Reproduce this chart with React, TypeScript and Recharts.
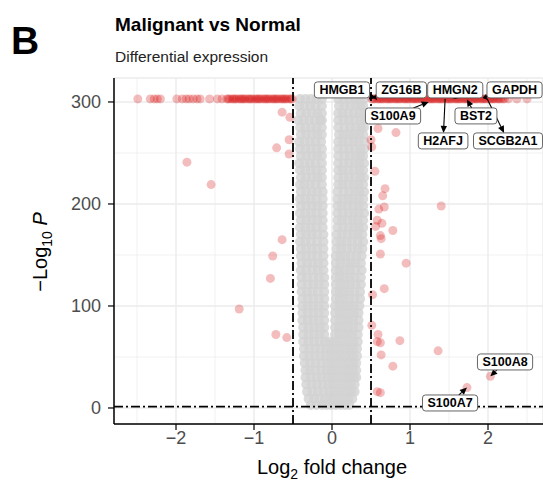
import React from "react";
import {
  ScatterChart,
  Scatter,
  XAxis,
  YAxis,
  CartesianGrid,
  ReferenceLine,
} from "recharts";

// -log10(P) value where P underflows to zero
const CAP_Y = 303;

// log2FC of genes sitting at the capped P value
const cappedLeft = [
  -2.49, -2.33, -2.28, -2.24, -2.2, -1.99, -1.92, -1.87, -1.83, -1.78, -1.73,
  -1.69, -1.57, -1.47, -1.41, -1.35, -1.33, -1.31, -1.28, -1.26, -1.24, -1.22,
  -1.19, -1.17, -1.15, -1.13, -1.11, -1.08, -1.06, -1.04, -1.02, -0.99, -0.97,
  -0.95, -0.93, -0.91, -0.88, -0.86, -0.84, -0.82, -0.8, -0.77, -0.75, -0.73,
  -0.71, -0.69, -0.66, -0.64, -0.62, -0.6, -0.58, -0.55, -0.53, -0.51,
];
const cappedRight = [
  0.51, 0.53, 0.55, 0.58, 0.6, 0.62, 0.64, 0.66, 0.69, 0.71, 0.73, 0.75, 0.77,
  0.8, 0.82, 0.84, 0.86, 0.88, 0.91, 0.93, 0.95, 0.97, 0.99, 1.02, 1.04, 1.06,
  1.08, 1.1, 1.13, 1.15, 1.17, 1.19, 1.21, 1.24, 1.26, 1.28, 1.3, 1.32, 1.35,
  1.37, 1.39, 1.41, 1.43, 1.46, 1.48, 1.5, 1.52, 1.54, 1.57, 1.59, 1.61, 1.63,
  1.65, 1.68, 1.7, 1.72, 1.74, 1.76, 1.79, 1.81, 1.83, 1.85, 1.87, 1.9, 1.92,
  1.94, 1.96, 1.98, 2.01, 2.03, 2.05, 2.07, 2.09, 2.12, 2.14, 2.16, 2.19, 2.21,
  2.26, 2.37, 2.5,
];

// significant genes below the cap: [log2FC, -log10 P]
const sigLeft: [number, number][] = [
  [-1.86, 241], [-1.55, 219], [-0.64, 290], [-0.54, 285], [-0.71, 255],
  [-0.55, 263], [-0.55, 249], [-0.64, 165], [-0.76, 149], [-0.79, 127],
  [-1.19, 97], [-0.72, 72], [-0.58, 69],
];
const sigRight: [number, number][] = [
  [0.5, 263], [0.51, 256], [0.59, 274], [0.82, 270], [0.55, 232], [0.68, 215],
  [0.65, 208], [0.6, 195], [0.67, 197], [1.4, 198], [0.58, 184], [0.56, 178],
  [0.64, 181], [0.78, 174], [0.62, 169], [0.63, 166], [0.62, 151], [0.95, 142],
  [0.67, 117], [0.52, 111], [0.51, 81], [0.59, 72], [0.58, 65], [0.62, 64],
  [0.63, 52], [0.87, 66], [1.36, 56], [0.78, 41], [0.58, 16], [0.62, 15],
  [1.73, 20], [2.03, 31],
];

// non-significant genes, one row per -log10 P level: [y, log2FC values]
const greyRows: [number, number[]][] = [
  [303, [-0.41, -0.34, -0.27, -0.2, -0.13, 0.08, 0.15, 0.22, 0.29, 0.35, 0.41]],
  [296, [-0.42, -0.35, -0.28, -0.21, -0.13, 0.09, 0.16, 0.23, 0.3, 0.36, 0.4]],
  [289, [-0.4, -0.33, -0.26, -0.19, -0.13, 0.08, 0.14, 0.21, 0.28, 0.35, 0.41]],
  [282, [-0.43, -0.36, -0.29, -0.22, -0.15, -0.13, 0.08, 0.15, 0.22, 0.29, 0.36, 0.42]],
  [275, [-0.41, -0.34, -0.27, -0.2, -0.13, 0.08, 0.16, 0.23, 0.3, 0.37, 0.41]],
  [268, [-0.4, -0.33, -0.26, -0.19, -0.13, 0.09, 0.15, 0.22, 0.28, 0.35, 0.4]],
  [261, [-0.42, -0.35, -0.28, -0.21, -0.14, 0.08, 0.14, 0.21, 0.28, 0.34, 0.41]],
  [254, [-0.41, -0.34, -0.27, -0.2, -0.13, 0.08, 0.15, 0.22, 0.29, 0.36, 0.41]],
  [247, [-0.4, -0.33, -0.26, -0.19, -0.13, 0.08, 0.16, 0.23, 0.3, 0.36, 0.4]],
  [240, [-0.42, -0.35, -0.28, -0.21, -0.13, 0.08, 0.15, 0.22, 0.29, 0.35, 0.41]],
  [233, [-0.41, -0.34, -0.27, -0.2, -0.13, 0.08, 0.14, 0.21, 0.28, 0.35, 0.4]],
  [226, [-0.4, -0.33, -0.26, -0.19, -0.13, 0.08, 0.15, 0.22, 0.29, 0.36, 0.41]],
  [219, [-0.41, -0.35, -0.28, -0.21, -0.13, 0.08, 0.14, 0.21, 0.28, 0.34, 0.4]],
  [212, [-0.4, -0.33, -0.26, -0.19, -0.12, 0.07, 0.15, 0.22, 0.29, 0.35, 0.41]],
  [205, [-0.41, -0.34, -0.27, -0.2, -0.12, 0.07, 0.14, 0.21, 0.27, 0.34, 0.4]],
  [198, [-0.4, -0.33, -0.26, -0.19, -0.12, 0.07, 0.13, 0.2, 0.27, 0.34, 0.4]],
  [191, [-0.41, -0.34, -0.27, -0.2, -0.12, 0.07, 0.14, 0.21, 0.28, 0.34, 0.41]],
  [184, [-0.4, -0.33, -0.26, -0.19, -0.12, 0.07, 0.13, 0.2, 0.27, 0.33, 0.4]],
  [177, [-0.41, -0.34, -0.27, -0.2, -0.12, 0.07, 0.14, 0.21, 0.28, 0.34, 0.4]],
  [170, [-0.4, -0.33, -0.26, -0.19, -0.11, 0.06, 0.13, 0.2, 0.27, 0.33, 0.39]],
  [163, [-0.41, -0.34, -0.27, -0.19, -0.11, 0.06, 0.12, 0.19, 0.26, 0.33, 0.4]],
  [156, [-0.4, -0.33, -0.26, -0.19, -0.11, 0.06, 0.12, 0.19, 0.26, 0.33, 0.39]],
  [149, [-0.4, -0.33, -0.26, -0.19, -0.11, 0.05, 0.11, 0.17, 0.24, 0.31, 0.38]],
  [142, [-0.39, -0.32, -0.25, -0.18, -0.11, 0.05, 0.11, 0.18, 0.24, 0.3, 0.37]],
  [135, [-0.4, -0.33, -0.25, -0.18, -0.11, 0.05, 0.1, 0.17, 0.23, 0.3, 0.38]],
  [128, [-0.39, -0.32, -0.24, -0.17, -0.1, 0.05, 0.1, 0.16, 0.23, 0.29, 0.37]],
  [121, [-0.39, -0.31, -0.24, -0.17, -0.1, 0.05, 0.11, 0.17, 0.23, 0.3, 0.37]],
  [114, [-0.39, -0.32, -0.25, -0.18, -0.1, 0.05, 0.1, 0.16, 0.22, 0.29, 0.36]],
  [107, [-0.38, -0.31, -0.24, -0.17, -0.1, 0.05, 0.1, 0.16, 0.22, 0.29, 0.36]],
  [100, [-0.38, -0.31, -0.24, -0.17, -0.1, 0.04, 0.1, 0.16, 0.22, 0.28, 0.35]],
  [93, [-0.38, -0.31, -0.24, -0.17, -0.1, 0.04, 0.1, 0.16, 0.22, 0.28, 0.34]],
  [86, [-0.38, -0.31, -0.24, -0.17, -0.1, 0.04, 0.1, 0.16, 0.21, 0.27, 0.34]],
  [79, [-0.37, -0.3, -0.23, -0.16, -0.1, 0.04, 0.09, 0.15, 0.21, 0.27, 0.34]],
  [72, [-0.37, -0.3, -0.23, -0.16, -0.1, 0.04, 0.09, 0.15, 0.21, 0.26, 0.33]],
  [65, [-0.37, -0.3, -0.23, -0.16, -0.09, -0.03, 0.03, 0.09, 0.15, 0.21, 0.27, 0.33]],
  [58, [-0.36, -0.29, -0.22, -0.15, -0.08, -0.02, 0.04, 0.1, 0.16, 0.22, 0.27, 0.32]],
  [51, [-0.36, -0.29, -0.22, -0.15, -0.08, -0.02, 0.04, 0.1, 0.16, 0.22, 0.27, 0.32]],
  [44, [-0.35, -0.28, -0.21, -0.14, -0.07, -0.01, 0.05, 0.11, 0.17, 0.22, 0.27, 0.31]],
  [37, [-0.34, -0.28, -0.21, -0.14, -0.07, -0.01, 0.05, 0.11, 0.17, 0.22, 0.27, 0.31]],
  [30, [-0.34, -0.27, -0.2, -0.13, -0.06, 0.0, 0.06, 0.12, 0.18, 0.23, 0.28, 0.31]],
  [23, [-0.33, -0.26, -0.19, -0.12, -0.05, 0.01, 0.07, 0.13, 0.19, 0.24, 0.29]],
  [16, [-0.32, -0.25, -0.18, -0.11, -0.04, 0.02, 0.08, 0.14, 0.2, 0.25, 0.29]],
  [9, [-0.3, -0.23, -0.16, -0.09, -0.03, 0.03, 0.09, 0.15, 0.21, 0.26]],
  [3, [-0.27, -0.2, -0.13, -0.07, -0.01, 0.05, 0.11, 0.17, 0.22]],
];

const labelled = [
  { gene: "HMGB1", x: 0.57, y: 304 },
  { gene: "ZG16B", x: 0.53, y: 304 },
  { gene: "HMGN2", x: 1.58, y: 303 },
  { gene: "GAPDH", x: 1.93, y: 304 },
  { gene: "S100A9", x: 1.24, y: 300 },
  { gene: "BST2", x: 1.73, y: 302.5 },
  { gene: "H2AFJ", x: 1.45, y: 303 },
  { gene: "SCGB2A1", x: 1.99, y: 303 },
  { gene: "S100A8", x: 2.03, y: 31 },
  { gene: "S100A7", x: 1.73, y: 20 },
];

const xTicks = [-2, -1, 0, 1, 2];
const yTicks = [0, 100, 200, 300];
const xMinor = [-2.5, -1.5, -0.5, 0.5, 1.5, 2.5];
const yMinor = [50, 150, 250];
const FC_CUT = 0.5;
const P_CUT = 1.3;

// label box offset from its point in px, and which end carries the arrowhead
const labelLayout: Record<string, [number, number, "point" | "label"]> = {
  HMGB1: [-34.5, -8, "point"],
  ZG16B: [28, -8, "point"],
  HMGN2: [0, -9, "point"],
  GAPDH: [32, -8, "point"],
  S100A9: [-35.7, 14, "point"],
  BST2: [9, 16.5, "point"],
  H2AFJ: [-2, 42, "label"],
  SCGB2A1: [20.8, 42, "label"],
  S100A8: [14.7, -14.4, "point"],
  S100A7: [-16.9, 15.4, "point"],
};

const FONT = "'Liberation Sans', Arial, Helvetica, sans-serif";

const greyPoints = greyRows.flatMap(([y, xs]) => xs.map((x) => ({ x, y })));
const redPoints = [
  ...cappedLeft.map((x) => ({ x, y: CAP_Y })),
  ...cappedRight.map((x) => ({ x, y: CAP_Y })),
  ...sigLeft.map(([x, y]) => ({ x, y })),
  ...sigRight.map(([x, y]) => ({ x, y })),
];

let ctx: CanvasRenderingContext2D | null = null;
function textWidth(s: string) {
  if (!ctx) ctx = document.createElement("canvas").getContext("2d");
  if (!ctx) return s.length * 8;
  ctx.font = `bold 12.5px ${FONT}`;
  return ctx.measureText(s).width;
}

const BOX_H = 16;

function boxGeom(props: any) {
  const { cx, cy, payload } = props;
  const [dx, dy, tip] = labelLayout[payload.gene];
  const w = textWidth(payload.gene) + 10;
  return { cx, cy, lx: cx + dx, ly: cy + dy, w, tip };
}

function LabelSegment(props: any) {
  const { cx, cy, lx, ly, w, tip } = boxGeom(props);
  const vx = cx - lx;
  const vy = cy - ly;
  const tx = vx ? w / 2 / Math.abs(vx) : Infinity;
  const ty = vy ? BOX_H / 2 / Math.abs(vy) : Infinity;
  const t = Math.min(tx, ty);
  if (t >= 1) return <g />;
  const sx = lx + vx * t;
  const sy = ly + vy * t;
  const [ax, ay, bx, by] = tip === "label" ? [cx, cy, sx, sy] : [sx, sy, cx, cy];
  const len = Math.hypot(bx - ax, by - ay);
  const ux = (bx - ax) / len;
  const uy = (by - ay) / len;
  const hl = Math.min(7, len);
  const hw = 3.2;
  const baseX = bx - ux * hl;
  const baseY = by - uy * hl;
  const pts = `${bx},${by} ${baseX - uy * hw},${baseY + ux * hw} ${baseX + uy * hw},${baseY - ux * hw}`;
  return (
    <g>
      <line x1={ax} y1={ay} x2={baseX} y2={baseY} stroke="#000" strokeWidth={1.1} />
      <polygon points={pts} fill="#000" />
    </g>
  );
}

function LabelBox(props: any) {
  const { lx, ly, w } = boxGeom(props);
  return (
    <g>
      <rect
        x={lx - w / 2}
        y={ly - BOX_H / 2}
        width={w}
        height={BOX_H}
        rx={3}
        fill="#fff"
        stroke="#555"
        strokeWidth={0.9}
      />
      <text
        x={lx}
        y={ly + 4.5}
        textAnchor="middle"
        fontSize={12.5}
        fontWeight="bold"
        fontFamily={FONT}
        fill="#000"
      >
        {props.payload.gene}
      </text>
    </g>
  );
}

const dot = (fill: string, opacity: number, r: number) => (p: any) => (
  <circle cx={p.cx} cy={p.cy} r={r} fill={fill} fillOpacity={opacity} />
);

const fmt = (v: number) => (v < 0 ? `\u2212${Math.abs(v)}` : String(v));

const tickStyle = { fill: "#4d4d4d", fontSize: 18, fontFamily: FONT };

export default function App() {
  return (
    <div style={{ position: "absolute", left: 0, top: 0, width: 543, height: 484, background: "#fff" }}>
      <ScatterChart
        width={543}
        height={484}
        margin={{ top: 78, right: 0, bottom: 20, left: 54 }}
      >
        <CartesianGrid stroke="#ebebeb" strokeWidth={1.4} />
        {xMinor.map((v) => (
          <ReferenceLine key={`xm${v}`} x={v} stroke="#ebebeb" strokeWidth={0.7} zIndex={-50} />
        ))}
        {yMinor.map((v) => (
          <ReferenceLine key={`ym${v}`} y={v} stroke="#ebebeb" strokeWidth={0.7} zIndex={-50} />
        ))}
        <XAxis
          type="number"
          dataKey="x"
          domain={[-2.795, 2.705]}
          ticks={xTicks}
          interval={0}
          allowDataOverflow
          height={40}
          tickFormatter={fmt}
          axisLine={{ stroke: "#000", strokeWidth: 1.5 }}
          tickLine={{ stroke: "#000", strokeWidth: 1.2 }}
          tickSize={6}
          tickMargin={1}
          tick={tickStyle}
        />
        <YAxis
          type="number"
          dataKey="y"
          domain={[-15.7, 323.5]}
          ticks={yTicks}
          interval={0}
          allowDataOverflow
          width={60}
          axisLine={{ stroke: "#000", strokeWidth: 1.5 }}
          tickLine={{ stroke: "#000", strokeWidth: 1.2 }}
          tickSize={6}
          tickMargin={7}
          tick={tickStyle}
        />
        <Scatter
          data={greyPoints}
          shape={dot("#d2d2d2", 0.8, 5)}
          isAnimationActive={false}
          zIndex={600}
        />
        <Scatter
          data={redPoints}
          shape={dot("#d40000", 0.26, 4.5)}
          isAnimationActive={false}
          zIndex={610}
        />
        <ReferenceLine x={-FC_CUT} stroke="#000" strokeWidth={1.8} strokeDasharray="9 3 2 3" zIndex={700} />
        <ReferenceLine x={FC_CUT} stroke="#000" strokeWidth={1.8} strokeDasharray="9 3 2 3" zIndex={700} />
        <ReferenceLine y={P_CUT} stroke="#000" strokeWidth={1.8} strokeDasharray="9 3 2 3" zIndex={700} />
        <Scatter data={labelled} shape={LabelSegment} isAnimationActive={false} zIndex={800} />
        <Scatter data={labelled} shape={LabelBox} isAnimationActive={false} zIndex={900} />
      </ScatterChart>
      <svg
        width={543}
        height={484}
        style={{ position: "absolute", left: 0, top: 0, pointerEvents: "none" }}
        fontFamily={FONT}
      >
        <text x={11} y={54} fontSize={39} fontWeight="bold" fill="#000">
          B
        </text>
        <text x={115} y={31} fontSize={19} fontWeight="bold" fill="#000">
          Malignant vs Normal
        </text>
        <text x={115} y={62} fontSize={15.5} fill="#222">
          Differential expression
        </text>
        <text x={332} y={474} fontSize={20} textAnchor="middle" fill="#000">
          Log<tspan fontSize={14} dy={5}>2</tspan>
          <tspan dy={-5}> fold change</tspan>
        </text>
        <text
          transform="translate(47,252) rotate(-90)"
          fontSize={20}
          textAnchor="middle"
          fill="#000"
        >
          {"\u2212Log"}
          <tspan fontSize={14} dy={5}>10</tspan>
          <tspan dy={-5}> </tspan>
          <tspan fontStyle="italic">P</tspan>
        </text>
      </svg>
    </div>
  );
}
